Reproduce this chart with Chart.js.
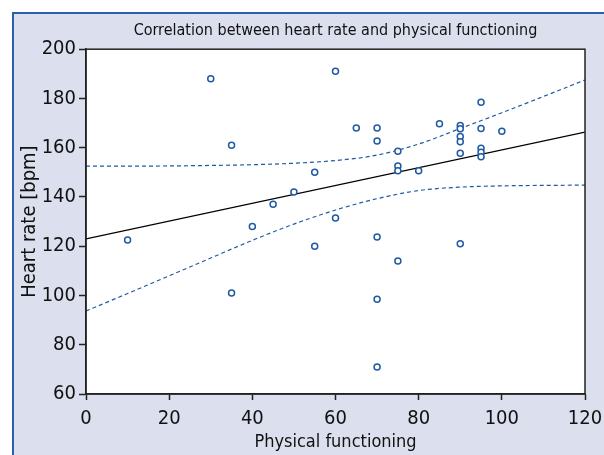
<!DOCTYPE html>
<html>
<head>
<meta charset="utf-8">
<script src="https://cdn.jsdelivr.net/npm/chart.js@4/dist/chart.umd.min.js"></script>
<style>
    body { margin: 0; background: #ffffff; }
    #panel {
        position: absolute; left: 12px; top: 12px; width: 592px; height: 443px;
        box-sizing: border-box; background: #dcdfee;
        border-top: 2px solid #2c5fa6; border-left: 2px solid #2c5fa6;
    }
    #hr-chart { position: absolute; left: 0; top: 0; }
</style>
</head>
<body>
<div id="panel"></div>
<canvas id="hr-chart" width="604" height="455"></canvas>
<script>
// physical functioning score vs heart rate, one entry per patient
const physFunc = [10, 30, 35, 35, 40, 45, 50, 55, 55, 60, 60, 65, 70, 70, 70, 70, 70, 75, 75, 75, 75, 80, 85,
    90, 90, 90, 90, 90, 90, 95, 95, 95, 95, 95, 100];
const heartRate = [122.5, 188, 161, 101, 128, 137, 142, 150, 120, 191, 131.5, 168, 168, 162.7, 123.7, 98.5, 71,
    158.6, 152.6, 150.6, 114, 150.6, 169.7, 169, 167.7, 164.6, 162.4, 157.8, 121, 178.5, 167.8, 159.8, 158.2, 156.3, 166.7];

// regression line end points
const fitX = [0, 120];
const fitY = [123, 166.3];

// confidence band
const bandX = [0, 10, 20, 30, 40, 50, 60, 70, 80, 90, 100, 110, 120];
const bandUpper = [152.5, 152.5, 152.6, 152.8, 153.1, 153.7, 154.8, 157, 161.5, 167.8, 174.2, 180.8, 187.5];
const bandLower = [93.7, 100.8, 108, 115.2, 122.4, 129, 134.7, 139.3, 142.6, 144, 144.5, 144.7, 144.8];

const xTicks = [0, 20, 40, 60, 80, 100, 120];
const yTicks = [60, 80, 100, 120, 140, 160, 180, 200];

const FONT = "'Liberation Sans Narrow', 'DejaVu Sans Condensed', 'Roboto', sans-serif";
const BLUE = '#1f5aa3';

function toPoints(xs, ys) {
    let pts = [];
    for (let i = 0; i < xs.length; i++) {
        pts.push({x: xs[i], y: ys[i]});
    }
    return pts;
}

// white plot area + black frame round it
const plotFrame = {
    id: 'plotFrame',
    beforeDraw(chart) {
        const a = chart.chartArea;
        const c = chart.ctx;
        c.save();
        c.fillStyle = '#ffffff';
        c.fillRect(a.left, a.top, a.right - a.left, a.bottom - a.top);
        c.restore();
    },
    afterDraw(chart) {
        const a = chart.chartArea;
        const c = chart.ctx;
        c.save();
        c.strokeStyle = '#222222';
        c.lineWidth = 1.5;
        c.strokeRect(a.left, a.top, a.right - a.left, a.bottom - a.top);
        c.restore();
    }
};

const ctx = document.getElementById('hr-chart').getContext('2d');
const hrChart = new Chart(ctx, {
    type: 'scatter',
    data: {
        datasets: [{
            label: 'Patients',
            data: toPoints(physFunc, heartRate),
            pointStyle: 'circle',
            pointRadius: 3,
            borderWidth: 1.5,
            borderColor: BLUE,
            backgroundColor: '#ffffff',
            order: 0
        }, {
            label: 'Fit',
            type: 'line',
            data: toPoints(fitX, fitY),
            borderColor: '#000000',
            borderWidth: 1.2,
            pointRadius: 0,
            order: 1
        }, {
            label: 'Upper',
            type: 'line',
            data: toPoints(bandX, bandUpper),
            borderColor: BLUE,
            borderWidth: 1.2,
            borderDash: [4, 3],
            cubicInterpolationMode: 'monotone',
            pointRadius: 0,
            order: 2
        }, {
            label: 'Lower',
            type: 'line',
            data: toPoints(bandX, bandLower),
            borderColor: BLUE,
            borderWidth: 1.2,
            borderDash: [4, 3],
            cubicInterpolationMode: 'monotone',
            pointRadius: 0,
            order: 2
        }]
    },
    options: {
        responsive: false,
        animation: false,
        layout: {
            padding: {left: 12, right: 19, top: 15, bottom: 0}
        },
        plugins: {
            legend: {display: false},
            tooltip: {enabled: false},
            title: {
                display: true,
                fullSize: false,
                text: 'Correlation between heart rate and physical functioning',
                color: '#111111',
                font: {family: FONT, size: 16, weight: 'normal'},
                padding: {top: 6, bottom: 9}
            }
        },
        scales: {
            x: {
                type: 'linear',
                min: 0,
                max: 120,
                afterBuildTicks: (scale) => {
                    scale.ticks = xTicks.map(v => ({value: v}));
                },
                afterFit: (scale) => {
                    scale.height = 61;
                    scale.paddingLeft = 0;
                    scale.paddingRight = 0;
                },
                grid: {
                    drawOnChartArea: false,
                    tickLength: 6,
                    color: '#222222',
                    tickWidth: 1.5
                },
                border: {color: '#222222', width: 1.5},
                ticks: {
                    color: '#111111',
                    padding: 7,
                    font: {family: FONT, size: 20}
                },
                title: {
                    display: true,
                    text: 'Physical functioning',
                    color: '#111111',
                    font: {family: FONT, size: 18},
                    padding: {top: 0, bottom: 2}
                }
            },
            y: {
                type: 'linear',
                min: 60,
                max: 200,
                afterBuildTicks: (scale) => {
                    scale.ticks = yTicks.map(v => ({value: v}));
                },
                afterFit: (scale) => {
                    scale.width = 74;
                },
                grid: {
                    drawOnChartArea: false,
                    tickLength: 7,
                    color: '#222222',
                    tickWidth: 1.5
                },
                border: {color: '#222222', width: 1.5},
                ticks: {
                    color: '#111111',
                    padding: 3,
                    font: {family: FONT, size: 20}
                },
                title: {
                    display: true,
                    text: 'Heart rate [bpm]',
                    color: '#111111',
                    font: {family: FONT, size: 20},
                    padding: {top: 6, bottom: 0}
                }
            }
        }
    },
    plugins: [plotFrame]
});
</script>
</body>
</html>
